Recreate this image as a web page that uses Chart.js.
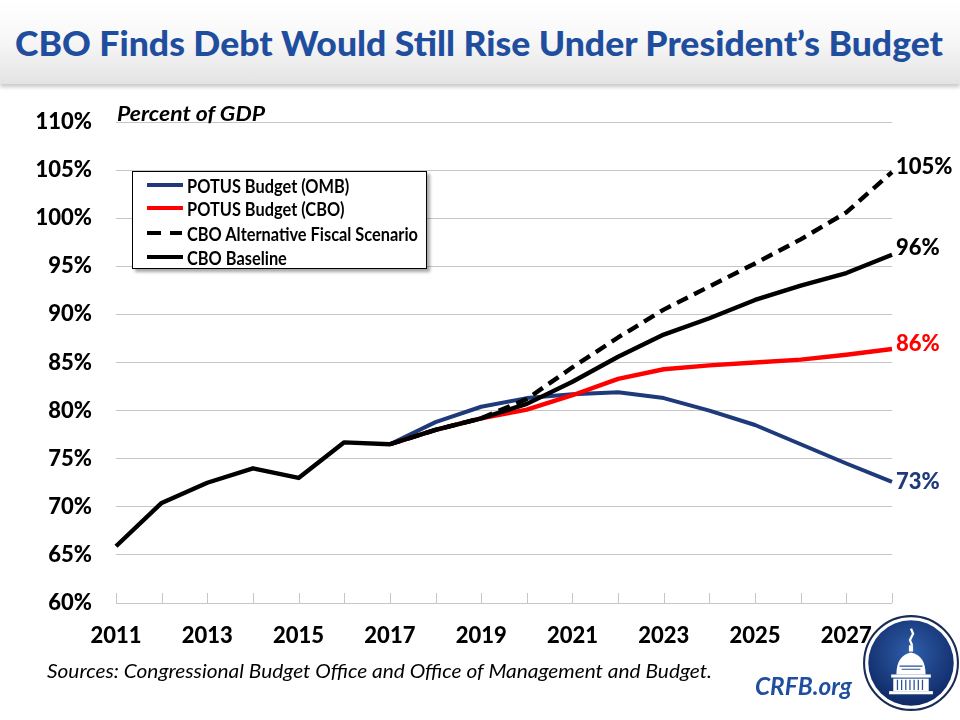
<!DOCTYPE html>
<html><head><meta charset="utf-8">
<script src="https://cdn.jsdelivr.net/npm/chart.js@4.4.1/dist/chart.umd.min.js"></script>
<style>
html,body{margin:0;padding:0;background:#fff;}
#wrap{position:relative;width:960px;height:720px;overflow:hidden;background:#fff;font-family:Lato,'Open Sans',sans-serif;}
#banner{position:absolute;left:0;top:0;width:960px;height:84px;background:linear-gradient(#ffffff 0%,#f8f8f8 45%,#e4e4e4 100%);box-shadow:0 3px 4px rgba(0,0,0,0.22);}
.fit{position:absolute;white-space:nowrap;display:inline-block;transform-origin:0 50%;line-height:1;}
#title{top:26px;left:15px;font-weight:900;font-size:34px;color:#1f4e9e;}
#pgdp{top:103px;left:117px;font-weight:700;font-style:italic;font-size:20px;color:#000;}
#src{top:661px;left:47px;font-style:italic;font-size:19px;color:#000;}
#crfb{top:674px;left:755px;font-weight:700;font-style:italic;font-size:24px;color:#1f4e9e;}
#chart{position:absolute;left:0;top:0;}
#legend{position:absolute;left:132px;top:171px;width:293px;height:96px;background:#fff;border:1px solid #000;box-shadow:3px 3px 3px rgba(0,0,0,0.35);}
.row{position:absolute;left:0;height:20px;}
.smp{position:absolute;left:14px;width:36px;height:4px;}
.lt{position:absolute;left:54px;white-space:nowrap;font-weight:700;font-size:18px;line-height:1;transform-origin:0 50%;}
#logo{position:absolute;left:862px;top:614px;}
</style></head>
<body><div id="wrap">
<div id="banner"></div>
<div id="title" class="fit">CBO Finds Debt Would Still Rise Under President’s Budget</div>
<canvas id="chart" width="960" height="720"></canvas>
<div id="pgdp" class="fit">Percent of GDP</div>
<div id="legend"></div>
<div id="src" class="fit">Sources: Congressional Budget Office and Office of Management and Budget.</div>
<div id="crfb" class="fit">CRFB.org</div>
<svg id="logo" width="98" height="98" viewBox="0 0 94 94">
<defs><radialGradient id="lg" cx="50%" cy="38%" r="62%"><stop offset="0" stop-color="#2f5eab"/><stop offset="1" stop-color="#0f2a66"/></radialGradient></defs>
<circle cx="47" cy="47" r="45" fill="#fff" stroke="#1a2c55" stroke-width="2"/>
<circle cx="47" cy="47" r="41" fill="url(#lg)"/>
<path d="M47 14 L49 19 L46 25 L48 30" stroke="#fff" stroke-width="2.2" fill="none"/>
<rect x="45" y="30" width="4" height="6" fill="#fff"/>
<path d="M33 58 Q33 40 47 37 Q61 40 61 58 Z" fill="#fff"/>
<path d="M36 50 L58 50 M38 53 L56 53" stroke="#2a4f94" stroke-width="1"/>
<rect x="28" y="58" width="38" height="3" fill="#fff"/>
<rect x="30" y="62" width="34" height="12" fill="#fff"/>
<path d="M34 63 V73 M38 63 V73 M42 63 V73 M46 63 V73 M50 63 V73 M54 63 V73 M58 63 V73" stroke="#2a4f94" stroke-width="1.2"/>
<rect x="26" y="74" width="42" height="3" fill="#fff"/>
</svg>
</div>
<script>
// ---- data ----
const years = ['2011','2012','2013','2014','2015','2016','2017','2018','2019','2020','2021','2022','2023','2024','2025','2026','2027','2028'];
const potusOMB = [null,null,null,null,null,null,76.5,78.8,80.4,81.3,81.7,81.9,81.3,80.0,78.5,76.5,74.5,72.6];
const potusCBO = [null,null,null,null,null,null,76.5,78.0,79.2,80.1,81.6,83.3,84.3,84.7,85.0,85.3,85.8,86.4];
const cboAlternative = [null,null,null,null,null,null,76.5,78.0,79.2,81.2,84.5,87.6,90.5,92.9,95.3,97.8,100.6,104.8];
const cboBaseline = [65.9,70.4,72.5,74.0,73.0,76.7,76.5,78.0,79.2,80.7,83.0,85.6,87.9,89.6,91.5,93.0,94.3,96.2];
const seriesNames = ['POTUS Budget (OMB)','POTUS Budget (CBO)','CBO Alternative Fiscal Scenario','CBO Baseline'];
const yMin = 60, yMax = 110, yStep = 5;

const NAVY = '#1f3a7a', RED = '#ff0000', BLACK = '#000000';
const colors = [NAVY, RED, BLACK, BLACK];
const dashes = [[], [], [12,7], []];
const labelDy = [0, -5, -5, -7];

// ---- legend (HTML) ----
const leg = document.getElementById('legend');
const rowTops = [3, 26, 51, 75];
const textEls = [];
seriesNames.forEach((n,i)=>{
  const r = document.createElement('div'); r.className='row'; r.style.top = rowTops[i]+'px';
  if (dashes[i].length) {
    r.innerHTML = '<div class="smp" style="top:8px;width:14px;background:#000"></div><div class="smp" style="top:8px;left:37px;width:12px;background:#000"></div>';
  } else {
    r.innerHTML = '<div class="smp" style="top:8px;background:'+colors[i]+'"></div>';
  }
  const t = document.createElement('div'); t.className='lt'; t.textContent = n; t.style.top='2px';
  r.appendChild(t); leg.appendChild(r); textEls.push(t);
});
const wide = textEls[2].getBoundingClientRect().width;
const ls = 231 / wide;
textEls.forEach(t=> t.style.transform = 'scaleX('+ls+')');

function fitX(id, w){ const el=document.getElementById(id); const nat=el.getBoundingClientRect().width; el.style.transform='scaleX('+(w/nat)+')'; }
fitX('title', 928);
fitX('pgdp', 148);
fitX('src', 665);
fitX('crfb', 97);

// ---- plugins ----
const axisTicks = {
  id:'axisTicks',
  beforeDatasetsDraw(chart){
    const ctx = chart.ctx, xs = chart.scales.x, b = chart.chartArea.bottom;
    ctx.save(); ctx.strokeStyle='#c6c6c6'; ctx.lineWidth=1;
    for (let i=0;i<years.length;i++){ const x=Math.round(xs.getPixelForValue(i))+0.5; ctx.beginPath(); ctx.moveTo(x,b); ctx.lineTo(x,b-10); ctx.stroke(); }
    ctx.restore();
  }
};
const endLabels = {
  id:'endLabels',
  afterDatasetsDraw(chart){
    const ctx = chart.ctx;
    ctx.save(); ctx.font = '900 22px Lato'; ctx.textAlign='left'; ctx.textBaseline='middle';
    chart.data.datasets.forEach((ds,i)=>{
      const meta = chart.getDatasetMeta(i); const last = meta.data[meta.data.length-1];
      const v = ds.data[ds.data.length-1];
      ctx.fillStyle = colors[i];
      ctx.fillText(Math.round(v)+'%', last.x+4, last.y+labelDy[i]);
    });
    ctx.restore();
  }
};

const seriesData = [potusOMB, potusCBO, cboAlternative, cboBaseline];
const orders = [3,2,1,0];
new Chart(document.getElementById('chart'), {
  type:'line',
  data:{ labels: years, datasets: seriesData.map((d,i)=>({
    label: seriesNames[i], data: d, borderColor: colors[i], backgroundColor: colors[i],
    borderWidth: i===0?4:4.4, borderDash: dashes[i], pointRadius:0, tension:0, spanGaps:false,
    borderJoinStyle:'round', order: orders[i]
  }))},
  options:{
    responsive:false, devicePixelRatio:1, animation:false,
    layout:{padding:{left:0, top:122, right:68, bottom:67}},
    plugins:{legend:{display:false}, tooltip:{enabled:false}},
    scales:{
      x:{
        grid:{display:false}, border:{display:false},
        ticks:{autoSkip:false, maxRotation:0, padding:12, color:'#000', font:{family:'Lato', weight:'900', size:22},
          callback:(v,i)=> i%2===0 ? years[i] : ''},
        afterFit:(s)=>{ s.height = 50; }
      },
      y:{
        min:yMin, max:yMax,
        grid:{color:'#c6c6c6', lineWidth:1, drawTicks:false}, border:{display:false},
        ticks:{stepSize:yStep, padding:24, color:'#000', font:{family:'Lato', weight:'900', size:22}, callback:(v)=> v+'%'},
        afterFit:(s)=>{ s.width = 116; }
      }
    }
  },
  plugins:[axisTicks, endLabels]
});
</script>
</body></html>
